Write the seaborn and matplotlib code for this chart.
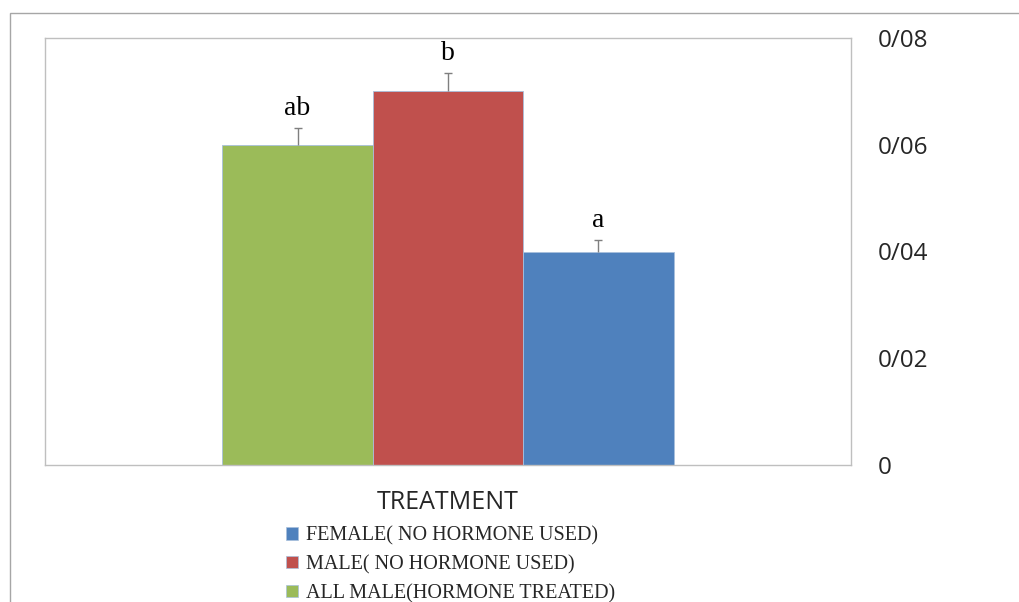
import pandas as pd
import matplotlib.pyplot as plt
import matplotlib.patches as mpatches
import seaborn as sns

# values
groups = ['ALL MALE(HORMONE TREATED)', 'MALE( NO HORMONE USED)', 'FEMALE( NO HORMONE USED)']
means = [0.060, 0.070, 0.040]
errors = [0.0032, 0.0035, 0.0021]
letters = ['ab', 'b', 'a']
colors = ['#9bbb59', '#c0504d', '#4f81bd']
yticks = [0, 0.02, 0.04, 0.06, 0.08]
ytick_labels = ['0', '0/02', '0/04', '0/06', '0/08']

df = pd.DataFrame({'cat': ['TREATMENT'] * 3, 'group': groups, 'value': means})

sns.set_style('white')
fig = plt.figure(figsize=(10.19, 6.02), dpi=100)
ax = fig.add_axes([45 / 1019, 137 / 602, 806 / 1019, 427 / 602])

sns.barplot(data=df, x='cat', y='value', hue='group', hue_order=groups,
            palette=colors, saturation=1, width=0.56, errorbar=None, legend=False,
            edgecolor='#a8c0dc', linewidth=0.6, ax=ax)

bars = ax.patches[:3]
for bar, m, e, lab in zip(bars, means, errors, letters):
    cx = bar.get_x() + bar.get_width() / 2
    _, caps, _ = ax.errorbar(cx, m, yerr=[[0], [e]], fmt='none', ecolor='#7f7f7f',
                             elinewidth=1, capsize=3, capthick=1)
    for c in caps:
        if abs(c.get_ydata()[0] - m) < 1e-9:
            c.set_visible(False)
    ax.text(cx, m + e + 0.0024, lab, ha='center', va='baseline',
            fontsize=20, family='Liberation Serif', color='black')

ax.set_xlim(-0.5, 0.5)
ax.set_ylim(0, 0.08)
ax.set_xticks([])
ax.yaxis.tick_right()
ax.set_yticks(yticks)
ax.set_yticklabels(ytick_labels, family='Open Sans', fontsize=17.5)
ax.tick_params(axis='y', length=0, pad=19)
ax.set_ylabel('')
ax.set_xlabel('TREATMENT', family='Open Sans', fontsize=18, labelpad=18)
for s in ax.spines.values():
    s.set_color('#bfbfbf')
    s.set_linewidth(1)

# legend, reversed order like the original
handles = [mpatches.Patch(facecolor=c, edgecolor='#a8c0dc', linewidth=0.5, label=g)
           for g, c in zip(groups, colors)][::-1]
fig.legend(handles=handles, loc='upper left', bbox_to_anchor=(286 / 1019, 1 - 526 / 602),
           frameon=False, prop={'family': 'Liberation Serif', 'size': 14.5},
           handlelength=0.6, handleheight=0.6, handletextpad=0.4,
           labelspacing=0.48, borderaxespad=0, borderpad=0)

# outer chart frame
fig.add_artist(mpatches.Rectangle((10 / 1019, -0.2), 1.2, 1.2 - 13 / 602,
                                  transform=fig.transFigure, fill=False,
                                  edgecolor='#a6a6a6', linewidth=1))

fig.savefig('out.png', dpi=100)
